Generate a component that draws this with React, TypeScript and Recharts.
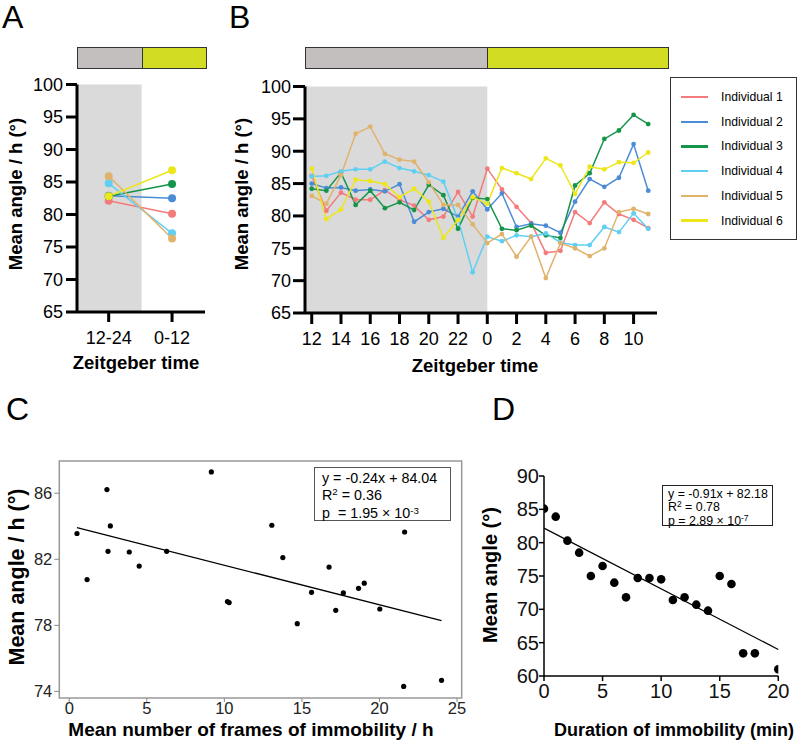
import React from "react";
import { LineChart, Line, XAxis, YAxis, ReferenceArea, ReferenceLine, ScatterChart, Scatter } from "recharts";

const FONT = "'Liberation Sans', Arial, Helvetica, sans-serif";

const individuals = ["Individual 1", "Individual 2", "Individual 3", "Individual 4", "Individual 5", "Individual 6"];
const colors = ["#f47b7c", "#4a8cd5", "#14954a", "#5fcff2", "#e0b36c", "#ece61a"];

// A - mean angle per 12 h period
const periods = ["12-24", "0-12"];
const periodInd1 = [82.1, 80.1];
const periodInd2 = [82.9, 82.5];
const periodInd3 = [82.8, 84.7];
const periodInd4 = [84.8, 77.1];
const periodInd5 = [85.9, 76.3];
const periodInd6 = [82.8, 86.8];
const periodSeries = [periodInd1, periodInd2, periodInd3, periodInd4, periodInd5, periodInd6];

// B - hourly mean angle
const hourLabels = ["12", "13", "14", "15", "16", "17", "18", "19", "20", "21", "22", "23", "0", "1", "2", "3", "4", "5", "6", "7", "8", "9", "10", "11"];
const hourlyInd1 = [86.2, 80.8, 83.6, 82.5, 82.5, 84.0, 82.5, 81.6, 79.4, 79.9, 83.7, 79.9, 87.3, 84.1, 81.4, 78.9, 74.3, 74.6, 80.6, 78.9, 82.1, 80.3, 79.4, 78.1];
const hourlyInd2 = [85.0, 84.3, 84.4, 83.9, 84.1, 83.8, 84.9, 79.1, 80.6, 81.1, 79.9, 83.8, 81.0, 83.5, 78.3, 78.8, 78.5, 77.4, 82.2, 85.7, 84.5, 85.9, 91.1, 83.9];
const hourlyInd3 = [84.2, 83.9, 86.7, 81.7, 83.9, 81.2, 82.1, 80.9, 84.8, 83.2, 78.0, 82.8, 82.6, 78.0, 77.8, 78.5, 77.0, 76.6, 84.7, 86.6, 91.9, 93.2, 95.6, 94.2];
const hourlyInd4 = [86.1, 86.2, 86.9, 87.2, 87.2, 88.4, 87.4, 86.9, 86.3, 85.3, 79.5, 71.3, 76.8, 76.1, 77.0, 76.8, 77.3, 75.9, 75.5, 75.5, 78.3, 77.5, 80.4, 78.0];
const hourlyInd5 = [83.1, 81.9, 86.3, 92.7, 93.8, 89.6, 88.7, 88.4, 85.2, 81.7, 81.7, 78.7, 75.8, 77.2, 73.7, 76.8, 70.4, 75.8, 75.0, 73.8, 75.0, 80.6, 81.1, 80.3];
const hourlyInd6 = [87.3, 79.5, 81.0, 85.6, 85.4, 84.9, 82.9, 84.2, 82.2, 76.6, 79.4, 82.9, 81.9, 87.4, 86.6, 85.7, 88.9, 87.8, 83.4, 87.6, 87.2, 88.3, 88.2, 89.8];
const hourlySeries = [hourlyInd1, hourlyInd2, hourlyInd3, hourlyInd4, hourlyInd5, hourlyInd6];

const angleTicks = [65, 70, 75, 80, 85, 90, 95, 100];

// C - frames of immobility vs mean angle
const framesX = [0.5, 1.15, 2.43, 2.5, 2.65, 3.87, 4.51, 6.28, 9.16, 10.2, 10.31, 13.06, 13.77, 14.7, 15.62, 16.75, 17.18, 17.67, 18.65, 19.02, 20.02, 21.62, 21.56, 24.0];
const framesY = [83.56, 80.77, 86.22, 82.48, 84.02, 82.44, 81.59, 82.48, 87.29, 79.44, 79.38, 84.06, 82.1, 78.1, 80.0, 81.53, 78.91, 79.96, 80.24, 80.55, 78.99, 83.65, 74.3, 74.67];
const fitC = { slope: -0.24, intercept: 84.04 };

// D - duration of immobility vs mean angle
const durationX = [0, 1, 2, 3, 4, 5, 6, 7, 8, 9, 10, 11, 12, 13, 14, 15, 16, 17, 18, 20];
const durationY = [85.1, 83.9, 80.3, 78.5, 75.0, 76.5, 74.0, 71.8, 74.7, 74.7, 74.5, 71.4, 71.8, 70.7, 69.8, 75.0, 73.8, 63.4, 63.4, 61.0];
const fitD = { slope: -0.91, intercept: 82.18 };

const periodData = periods.map((_, i) => {
  const row: any = { x: i };
  periodSeries.forEach((s, k) => (row["s" + k] = s[i]));
  return row;
});
const hourlyData = hourLabels.map((_, i) => {
  const row: any = { x: i };
  hourlySeries.forEach((s, k) => (row["s" + k] = s[i]));
  return row;
});
const framesData = framesX.map((x, i) => ({ x, y: framesY[i] }));
const durationData = durationX.map((x, i) => ({ x, y: durationY[i] }));

const fitSegment = (xs: number[], fit: { slope: number; intercept: number }) => {
  const x0 = Math.min(...xs);
  const x1 = Math.max(...xs);
  return [
    { x: x0, y: fit.intercept + fit.slope * x0 },
    { x: x1, y: fit.intercept + fit.slope * x1 },
  ];
};

const thick = { stroke: "#000", strokeWidth: 3 };
const bigTick = { fill: "#000", fontSize: 18, fontFamily: FONT };

const VLabel = ({ x, y, size, children }: any) => (
  <div style={{ position: "absolute", left: x, top: y, transform: "translate(-50%, -50%) rotate(-90deg)", fontSize: size, fontWeight: "bold", whiteSpace: "nowrap", lineHeight: 1 }}>
    {children}
  </div>
);
const HLabel = ({ x, y, size, children }: any) => (
  <div style={{ position: "absolute", left: x, top: y, transform: "translate(-50%, -50%)", fontSize: size, fontWeight: "bold", whiteSpace: "nowrap", lineHeight: 1 }}>
    {children}
  </div>
);
const Letter = ({ x, y, children }: any) => (
  <div style={{ position: "absolute", left: x, top: y, fontSize: 32, lineHeight: 1 }}>{children}</div>
);

const LightBar = ({ left, width, split }: any) => (
  <div style={{ position: "absolute", left, top: 47, width, height: 22, border: "1.5px solid #333", boxSizing: "border-box", display: "flex" }}>
    <div style={{ width: split, background: "#c3bfbf", borderRight: "1.5px solid #333" }} />
    <div style={{ flex: 1, background: "#d1dc22" }} />
  </div>
);

const Sup = ({ children }: any) => (
  <span style={{ fontSize: "0.68em", position: "relative", top: "-0.45em" }}>{children}</span>
);

const dotC = (p: any) => <circle cx={p.cx} cy={p.cy} r={2.6} fill="#000" />;
const dotD = (p: any) => <circle cx={p.cx} cy={p.cy} r={4.3} fill="#000" />;

export default function App() {
  return (
    <div style={{ position: "absolute", left: 0, top: 0, width: 800, height: 743, background: "#fff", fontFamily: FONT, color: "#000", overflow: "hidden" }}>
      <Letter x={2} y={1}>A</Letter>
      <Letter x={229} y={1}>B</Letter>
      <Letter x={6} y={393}>C</Letter>
      <Letter x={492} y={393}>D</Letter>

      <LightBar left={77} width={130} split={64} />
      <LightBar left={305} width={364} split={181} />

      {/* Panel A */}
      <div style={{ position: "absolute", left: 0, top: 0 }}>
        <LineChart width={230} height={370} data={periodData} margin={{ top: 84.5, right: 25, bottom: 28, left: 0 }}>
          <XAxis type="number" dataKey="x" domain={[-0.5, 1.52]} allowDataOverflow ticks={[0, 1]} interval={0}
            tickFormatter={(v: number) => periods[v]} axisLine={thick} tickLine={thick} tickSize={10} tickMargin={9} tick={bigTick} height={30} />
          <YAxis type="number" domain={[65, 100]} allowDataOverflow ticks={angleTicks} interval={0}
            axisLine={thick} tickLine={thick} tickSize={11} tickMargin={3} tick={bigTick} width={77} />
          <ReferenceArea x1={-0.5} x2={0.52} y1={65} y2={100} fill="#dbdadb" fillOpacity={1} stroke="none" />
          {individuals.map((name, k) => (
            <Line key={name} name={name} dataKey={"s" + k} stroke={colors[k]} strokeWidth={1.5}
              dot={{ r: 4, fill: colors[k], stroke: colors[k], strokeWidth: 0 }} activeDot={false} isAnimationActive={false} />
          ))}
        </LineChart>
      </div>
      <VLabel x={16} y={194} size={18.5}>Mean angle / h (°)</VLabel>
      <HLabel x={136} y={363} size={18.5}>Zeitgeber time</HLabel>

      {/* Panel B */}
      <div style={{ position: "absolute", left: 230, top: 0 }}>
        <LineChart width={570} height={370} data={hourlyData} margin={{ top: 86.5, right: 143, bottom: 27, left: 0 }}>
          <XAxis type="number" dataKey="x" domain={[-0.46, 23.6]} allowDataOverflow ticks={[0, 2, 4, 6, 8, 10, 12, 14, 16, 18, 20, 22]} interval={0}
            tickFormatter={(v: number) => hourLabels[v]} axisLine={thick} tickLine={thick} tickSize={11} tickMargin={8} tick={bigTick} height={30} />
          <YAxis type="number" domain={[65, 100]} allowDataOverflow ticks={angleTicks} interval={0}
            axisLine={thick} tickLine={thick} tickSize={12} tickMargin={2} tick={bigTick} width={75} />
          <ReferenceArea x1={-0.46} x2={12} y1={65} y2={100} fill="#dbdadb" fillOpacity={1} stroke="none" />
          {individuals.map((name, k) => (
            <Line key={name} name={name} dataKey={"s" + k} stroke={colors[k]} strokeWidth={1.5}
              dot={{ r: 2.4, fill: colors[k], stroke: colors[k], strokeWidth: 0 }} activeDot={false} isAnimationActive={false} />
          ))}
        </LineChart>
      </div>
      <VLabel x={242} y={194} size={18.5}>Mean angle / h (°)</VLabel>
      <HLabel x={475} y={366} size={18.5}>Zeitgeber time</HLabel>

      {/* legend B */}
      <div style={{ position: "absolute", left: 670, top: 77, width: 127, height: 163, border: "1.5px solid #333", boxSizing: "border-box" }}>
        {individuals.map((name, k) => (
          <div key={name} style={{ position: "absolute", left: 0, top: 19 + k * 24.7, width: "100%", height: 0 }}>
            <div style={{ position: "absolute", left: 10, top: -1.2, width: 27, height: 2.5, background: colors[k] }} />
            <div style={{ position: "absolute", left: 50, top: -7, fontSize: 12.2, lineHeight: "14px", whiteSpace: "nowrap" }}>{name}</div>
          </div>
        ))}
      </div>

      {/* Panel C */}
      <div style={{ position: "absolute", left: 0, top: 390 }}>
        <ScatterChart width={480} height={353} margin={{ top: 71, right: 18.3, bottom: 15, left: 0 }}>
          <XAxis type="number" dataKey="x" domain={[-0.64, 25.3]} allowDataOverflow ticks={[0, 5, 10, 15, 20, 25]} interval={0}
            axisLine={false} tickLine={{ stroke: "#888", strokeWidth: 1 }} tickSize={4} tickMargin={0}
            tick={{ fill: "#222", fontSize: 16.5, fontFamily: FONT }} height={30} />
          <YAxis type="number" dataKey="y" domain={[73.6, 87.95]} allowDataOverflow ticks={[74, 78, 82, 86]} interval={0}
            axisLine={false} tickLine={{ stroke: "#888", strokeWidth: 1 }} tickSize={5} tickMargin={2}
            tick={{ fill: "#222", fontSize: 16.5, fontFamily: FONT }} width={59.3} />
          <ReferenceArea x1={-0.64} x2={25.3} y1={73.6} y2={87.95} fill="none" stroke="#999" strokeWidth={1.5} />
          <ReferenceLine segment={fitSegment(framesX, fitC)} stroke="#000" strokeWidth={1.3} />
          <Scatter data={framesData} shape={dotC} isAnimationActive={false} />
        </ScatterChart>
      </div>
      <VLabel x={18} y={577} size={21.5}>Mean angle / h (°)</VLabel>
      <HLabel x={251} y={729} size={19}>Mean number of frames of immobility / h</HLabel>
      <div style={{ position: "absolute", left: 314, top: 467, width: 137, height: 54, border: "1.5px solid #555", boxSizing: "border-box", background: "#fff", fontSize: 14.3, lineHeight: "16.5px", padding: "2px 0 0 7px", whiteSpace: "nowrap" }}>
        <div>y = -0.24x + 84.04</div>
        <div>R<Sup>2</Sup> = 0.36</div>
        <div>p&nbsp; = 1.95 × 10<Sup>-3</Sup></div>
      </div>

      {/* Panel D */}
      <div style={{ position: "absolute", left: 420, top: 390 }}>
        <ScatterChart width={380} height={353} margin={{ top: 86, right: 21.7, bottom: 37, left: 0 }}>
          <XAxis type="number" dataKey="x" domain={[0, 20]} allowDataOverflow ticks={[0, 5, 10, 15, 20]} interval={0}
            axisLine={{ stroke: "#000", strokeWidth: 1.5 }} tickLine={{ stroke: "#000", strokeWidth: 1.5 }} tickSize={5} tickMargin={3}
            tick={{ fill: "#111", fontSize: 20, fontFamily: FONT }} height={30} />
          <YAxis type="number" dataKey="y" domain={[60, 90]} allowDataOverflow ticks={[60, 65, 70, 75, 80, 85, 90]} interval={0}
            axisLine={{ stroke: "#000", strokeWidth: 1.5 }} tickLine={{ stroke: "#000", strokeWidth: 1.5 }} tickSize={5} tickMargin={0}
            tick={{ fill: "#111", fontSize: 20, fontFamily: FONT }} width={124} />
          <ReferenceLine segment={fitSegment(durationX, fitD)} stroke="#000" strokeWidth={1.2} />
          <Scatter data={durationData} shape={dotD} isAnimationActive={false} />
        </ScatterChart>
      </div>
      <VLabel x={490} y={575} size={20}>Mean angle (°)</VLabel>
      <HLabel x={674} y={730} size={18}>Duration of immobility (min)</HLabel>
      <div style={{ position: "absolute", left: 662, top: 485, width: 111, height: 41, border: "1px solid #222", boxSizing: "border-box", background: "#fff", fontSize: 12.4, lineHeight: "13.3px", padding: "1.5px 0 0 5px", whiteSpace: "nowrap" }}>
        <div>y = -0.91x + 82.18</div>
        <div>R<Sup>2</Sup> = 0.78</div>
        <div>p = 2.89 × 10<Sup>-7</Sup></div>
      </div>
    </div>
  );
}
